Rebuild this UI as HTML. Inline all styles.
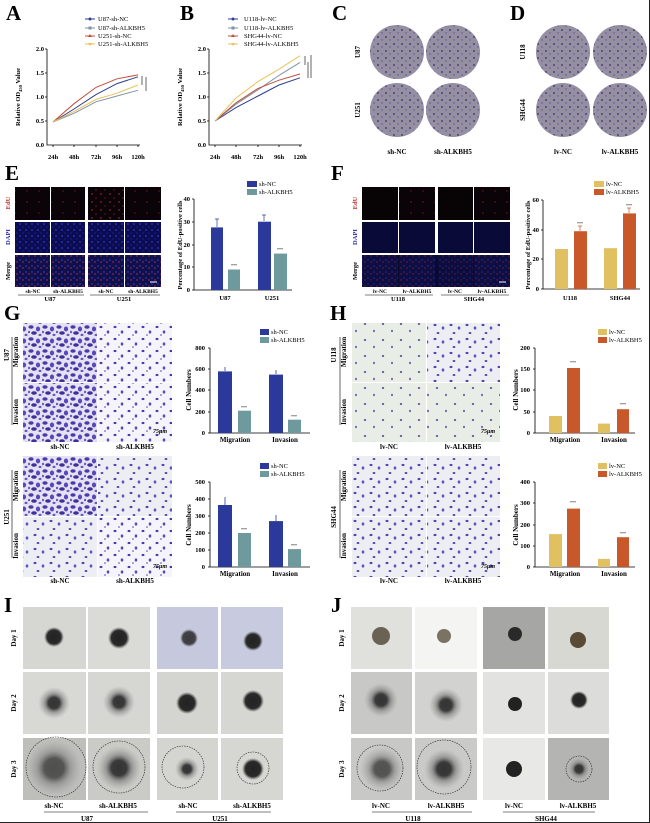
<!DOCTYPE html>
<html><head><meta charset="utf-8"><style>
html,body{margin:0;padding:0;background:#fff;}
svg{display:block;font-family:"Liberation Serif",serif;}
.L{font-size:21px;font-weight:bold;}
.t{font-size:7px;font-weight:bold;}
.s{font-size:6.5px;}
</style></head><body>
<svg width="650" height="823" viewBox="0 0 650 823" xmlns="http://www.w3.org/2000/svg">
<defs>
<pattern id="pd" width="14" height="12" patternUnits="userSpaceOnUse">
<rect width="14" height="12" fill="#e4e2f2"/>
<ellipse cx="3" cy="3" rx="2.6" ry="1.8" fill="#4a3aa8"/><ellipse cx="10" cy="5" rx="2.1" ry="2.5" fill="#5a48b8"/><ellipse cx="6" cy="9" rx="2.8" ry="1.8" fill="#3e2f9a"/><ellipse cx="12" cy="11" rx="1.5" ry="1.2" fill="#6a5ac0"/><ellipse cx="1" cy="8" rx="1.2" ry="1.2" fill="#6a5ac0"/>
</pattern>
<pattern id="ps" width="14" height="12" patternUnits="userSpaceOnUse">
<rect width="14" height="12" fill="#f4f4fa"/>
<ellipse cx="3" cy="3" rx="1.5" ry="1.1" fill="#4a3aa8"/><ellipse cx="10" cy="8" rx="1.3" ry="1.6" fill="#5a48b8"/><ellipse cx="7" cy="11" rx="0.9" ry="0.8" fill="#6a5ac0"/>
</pattern>
<pattern id="pg" width="18" height="16" patternUnits="userSpaceOnUse">
<rect width="18" height="16" fill="#e8eee6"/>
<ellipse cx="5" cy="4" rx="1.2" ry="1" fill="#5a50a8"/><ellipse cx="14" cy="11" rx="1" ry="1.2" fill="#6a60b0"/>
</pattern>
<pattern id="pm" width="16" height="14" patternUnits="userSpaceOnUse">
<rect width="16" height="14" fill="#eceef4"/>
<ellipse cx="3" cy="3" rx="1.5" ry="1.1" fill="#5040b0"/><ellipse cx="11" cy="6" rx="1.3" ry="1.6" fill="#6050c0"/><ellipse cx="6" cy="11" rx="1.4" ry="1" fill="#5545b5"/>
</pattern>
<pattern id="pe" width="9" height="8" patternUnits="userSpaceOnUse">
<rect width="9" height="8" fill="#0a0408"/><circle cx="2" cy="2" r="0.7" fill="#d03030"/><circle cx="6" cy="6" r="0.6" fill="#a02828"/>
</pattern>
<pattern id="pe2" width="12" height="11" patternUnits="userSpaceOnUse">
<rect width="12" height="11" fill="#0a0408"/><circle cx="3" cy="4" r="0.6" fill="#a02828"/>
</pattern>
<pattern id="pb" width="6" height="6" patternUnits="userSpaceOnUse">
<rect width="6" height="6" fill="#0c0c50"/><circle cx="2" cy="2" r="1" fill="#2a2ab8"/><circle cx="5" cy="5" r="0.8" fill="#1e1e90"/>
</pattern>
<pattern id="pmg" width="6" height="6" patternUnits="userSpaceOnUse">
<rect width="6" height="6" fill="#10104a"/><circle cx="2" cy="2" r="1" fill="#2a2ab0"/><circle cx="5" cy="4" r="0.7" fill="#c03050"/>
</pattern>
<pattern id="pc" width="8" height="7" patternUnits="userSpaceOnUse">
<rect width="8" height="7" fill="#958fa2"/><circle cx="2" cy="2" r="0.9" fill="#3a2a70"/><circle cx="6" cy="5" r="0.7" fill="#6050a0"/>
</pattern>
<radialGradient id="sph"><stop offset="0" stop-color="#222"/><stop offset="0.7" stop-color="#2a2a2a"/><stop offset="1" stop-color="#555" stop-opacity="0"/></radialGradient>
<radialGradient id="sphh"><stop offset="0" stop-color="#333"/><stop offset="0.35" stop-color="#3a3a3a"/><stop offset="0.6" stop-color="#777" stop-opacity="0.6"/><stop offset="1" stop-color="#999" stop-opacity="0"/></radialGradient>
</defs>

<!-- A -->
<text x="6" y="20" class="L">A</text>
<g class="s" text-anchor="end" font-weight="bold">
<text x="44" y="51">2.0</text><text x="44" y="75">1.5</text><text x="44" y="99">1.0</text><text x="44" y="123">0.5</text><text x="44" y="147">0.0</text>
<text x="206" y="51">2.0</text><text x="206" y="75">1.5</text><text x="206" y="99">1.0</text><text x="206" y="123">0.5</text><text x="206" y="147">0.0</text>
</g>
<g stroke="#000" stroke-width="0.8" fill="none">
<path d="M47 49V145H140M45 49h2M45 73h2M45 97h2M45 121h2M53 145v2M74 145v2M96 145v2M117 145v2M138 145v2"/>
<path d="M209 49V145H302M207 49h2M207 73h2M207 97h2M207 121h2M215 145v2M236 145v2M258 145v2M279 145v2M300 145v2"/>
</g>
<g class="s" font-weight="bold" text-anchor="middle">
<text x="53" y="159">24h</text><text x="74" y="159">48h</text><text x="96" y="159">72h</text><text x="117" y="159">96h</text><text x="138" y="159">120h</text>
<text x="215" y="159">24h</text><text x="236" y="159">48h</text><text x="258" y="159">72h</text><text x="279" y="159">96h</text><text x="300" y="159">120h</text>
</g>
<text transform="translate(20,97) rotate(-90)" class="s" font-weight="bold" text-anchor="middle">Relative OD<tspan font-size="4.5" dy="2">450</tspan><tspan dy="-2"> Value</tspan></text>
<text transform="translate(182,97) rotate(-90)" class="s" font-weight="bold" text-anchor="middle">Relative OD<tspan font-size="4.5" dy="2">450</tspan><tspan dy="-2"> Value</tspan></text>
<g fill="none" stroke-width="1">
<polyline stroke="#2d3d8f" points="53,122 74,109 96,94.6 117,83.6 138,76.8"/>
<polyline stroke="#7f93a8" points="53,122 74,113.3 96,101.8 117,96 138,90.3"/>
<polyline stroke="#c0503a" points="53,122 74,103.7 96,87.4 117,78.8 138,74.9"/>
<polyline stroke="#e8c25a" points="53,122 74,111.4 96,99.4 117,93.2 138,85"/>
<polyline stroke="#2d3d8f" points="215,121 236,107.6 258,96 279,85 300,77.8"/>
<polyline stroke="#7f93a8" points="215,121 236,104.2 258,89.8 279,75.4 300,62.4"/>
<polyline stroke="#c0503a" points="215,121 236,102.8 258,88.4 279,80.2 300,74"/>
<polyline stroke="#e8c25a" points="215,121 236,98 258,81.6 279,69.2 300,55.7"/>
</g>
<g stroke="#000" stroke-width="0.6" fill="none"><path d="M142 76v9M146 77v14M305 56v9M308 62v16M311 55v23"/></g>
<g class="s">
<line x1="85" y1="19" x2="95" y2="19" stroke="#2d3d8f"/><circle cx="90" cy="19" r="1.5" fill="#2d3d8f"/><text x="98" y="21">U87-sh-NC</text>
<line x1="85" y1="28" x2="95" y2="28" stroke="#7f93a8"/><rect x="88.5" y="26.5" width="3" height="3" fill="#7f93a8"/><text x="98" y="30">U87-sh-ALKBH5</text>
<line x1="85" y1="36" x2="95" y2="36" stroke="#c0503a"/><path d="M90 34l2 3h-4z" fill="#c0503a"/><text x="98" y="38">U251-sh-NC</text>
<line x1="85" y1="44" x2="95" y2="44" stroke="#e8c25a"/><path d="M90 46l2-3h-4z" fill="#e8c25a"/><text x="98" y="46">U251-sh-ALKBH5</text>
<line x1="228" y1="19" x2="238" y2="19" stroke="#2d3d8f"/><circle cx="233" cy="19" r="1.5" fill="#2d3d8f"/><text x="244" y="21">U118-lv-NC</text>
<line x1="228" y1="28" x2="238" y2="28" stroke="#7f93a8"/><rect x="231.5" y="26.5" width="3" height="3" fill="#7f93a8"/><text x="244" y="30">U118-lv-ALKBH5</text>
<line x1="228" y1="36" x2="238" y2="36" stroke="#c0503a"/><path d="M233 34l2 3h-4z" fill="#c0503a"/><text x="244" y="38">SHG44-lv-NC</text>
<line x1="228" y1="44" x2="238" y2="44" stroke="#e8c25a"/><path d="M233 46l2-3h-4z" fill="#e8c25a"/><text x="244" y="46">SHG44-lv-ALKBH5</text>
</g>
<text x="180" y="20" class="L">B</text>

<!-- C D -->
<text x="332" y="20" class="L">C</text><text x="510" y="20" class="L">D</text>
<g fill="url(#pc)">
<circle cx="397" cy="52" r="27"/><circle cx="453" cy="52" r="27"/><circle cx="397" cy="110" r="27"/><circle cx="453" cy="110" r="27"/>
<circle cx="563" cy="52" r="27"/><circle cx="620" cy="52" r="27"/><circle cx="563" cy="110" r="27"/><circle cx="620" cy="110" r="27"/>
</g>
<g class="t" text-anchor="middle">
<text transform="translate(360,52) rotate(-90)">U87</text><text transform="translate(360,110) rotate(-90)">U251</text>
<text transform="translate(525,52) rotate(-90)">U118</text><text transform="translate(525,110) rotate(-90)">SHG44</text>
<text x="397" y="154">sh-NC</text><text x="453" y="154">sh-ALKBH5</text><text x="563" y="154">lv-NC</text><text x="620" y="154">lv-ALKBH5</text>
</g>

<!-- E -->
<text x="5" y="180" class="L">E</text>
<g>
<rect x="15" y="187" width="35" height="33" fill="url(#pe2)"/><rect x="51" y="187" width="34" height="33" fill="url(#pe2)"/>
<rect x="88" y="187" width="36" height="33" fill="url(#pe)"/><rect x="125" y="187" width="36" height="33" fill="url(#pe2)"/>
<rect x="15" y="222" width="35" height="31" fill="url(#pb)"/><rect x="51" y="222" width="34" height="31" fill="url(#pb)"/>
<rect x="88" y="222" width="36" height="31" fill="url(#pb)"/><rect x="125" y="222" width="36" height="31" fill="url(#pb)"/>
<rect x="15" y="255" width="35" height="32" fill="url(#pmg)"/><rect x="51" y="255" width="34" height="32" fill="url(#pmg)"/>
<rect x="88" y="255" width="36" height="32" fill="url(#pmg)"/><rect x="125" y="255" width="36" height="32" fill="url(#pmg)"/>
<line x1="150" y1="282" x2="157" y2="282" stroke="#fff"/>
</g>
<g class="s" text-anchor="middle" font-weight="bold">
<text transform="translate(10,203) rotate(-90)" fill="#c03030">EdU</text>
<text transform="translate(10,237) rotate(-90)" fill="#2a2aa0">DAPI</text>
<text transform="translate(10,271) rotate(-90)">Merge</text>
<text x="33" y="293" font-size="5.5">sh-NC</text><text x="68" y="293" font-size="5.5">sh-ALKBH5</text>
<text x="106" y="293" font-size="5.5">sh-NC</text><text x="143" y="293" font-size="5.5">sh-ALKBH5</text>
<text x="50" y="301">U87</text><text x="124" y="301">U251</text>
</g>
<path d="M18 295h66M90 295h70" stroke="#000" stroke-width="0.6"/>
<g stroke="#000" stroke-width="0.8" fill="none"><path d="M194 199V290H292M192 199h2M192 222h2M192 245h2M192 267h2M192 290h2"/></g>
<g class="s" text-anchor="end" font-weight="bold"><text x="190" y="201">40</text><text x="190" y="224">30</text><text x="190" y="247">20</text><text x="190" y="269">10</text><text x="190" y="292">0</text></g>
<text transform="translate(182,245) rotate(-90)" class="s" font-weight="bold" text-anchor="middle">Percentage of EdU-positive cells</text>
<rect x="211" y="227.4" width="12" height="62.6" fill="#2b3a9a"/><rect x="228" y="269.5" width="12" height="20.5" fill="#6e9a9e"/>
<rect x="258" y="221.7" width="13" height="68.3" fill="#2b3a9a"/><rect x="274" y="253.6" width="13" height="36.4" fill="#6e9a9e"/>
<path d="M217 227v-8M215 219h4M264 221v-6M262 215h4" stroke="#2b3a9a" stroke-width="0.7"/>
<g font-size="4" text-anchor="middle"><text x="234" y="267">***</text><text x="280" y="251">***</text></g>
<g class="s"><rect x="247" y="181" width="10" height="6" fill="#2b3a9a"/><text x="259" y="186">sh-NC</text><rect x="247" y="189" width="10" height="6" fill="#6e9a9e"/><text x="259" y="194">sh-ALKBH5</text></g>
<g class="s" font-weight="bold" text-anchor="middle"><text x="225" y="300">U87</text><text x="272" y="300">U251</text></g>

<!-- F -->
<text x="331" y="180" class="L">F</text>
<g>
<rect x="362" y="187" width="36" height="33" fill="#080406"/><rect x="399" y="187" width="36" height="33" fill="url(#pe2)"/>
<rect x="438" y="187" width="35" height="33" fill="#080406"/><rect x="474" y="187" width="36" height="33" fill="url(#pe2)"/>
<rect x="362" y="222" width="36" height="31" fill="#0a0a38"/><rect x="399" y="222" width="36" height="31" fill="#0a0a38"/>
<rect x="438" y="222" width="35" height="31" fill="#0a0a38"/><rect x="474" y="222" width="36" height="31" fill="#0a0a38"/>
<rect x="362" y="255" width="148" height="32" fill="#0a0a30"/>
<rect x="362" y="255" width="36" height="32" fill="url(#pmg)" opacity="0.6"/><rect x="399" y="255" width="36" height="32" fill="url(#pmg)" opacity="0.6"/>
<rect x="438" y="255" width="35" height="32" fill="url(#pmg)" opacity="0.5"/><rect x="474" y="255" width="36" height="32" fill="url(#pmg)" opacity="0.6"/>
<line x1="499" y1="282" x2="506" y2="282" stroke="#fff"/>
</g>
<g class="s" text-anchor="middle" font-weight="bold">
<text transform="translate(357,203) rotate(-90)" fill="#c03030">EdU</text>
<text transform="translate(357,237) rotate(-90)" fill="#2a2aa0">DAPI</text>
<text transform="translate(357,271) rotate(-90)">Merge</text>
<text x="380" y="293" font-size="5.5">lv-NC</text><text x="417" y="293" font-size="5.5">lv-ALKBH5</text>
<text x="455" y="293" font-size="5.5">lv-NC</text><text x="492" y="293" font-size="5.5">lv-ALKBH5</text>
<text x="398" y="301">U118</text><text x="474" y="301">SHG44</text>
</g>
<path d="M365 295h68M441 295h68" stroke="#000" stroke-width="0.6"/>
<g stroke="#000" stroke-width="0.8" fill="none"><path d="M543 200V289H640M541 200h2M541 230h2M541 259h2M541 289h2"/></g>
<g class="s" text-anchor="end" font-weight="bold"><text x="539" y="202">60</text><text x="539" y="232">40</text><text x="539" y="261">20</text><text x="539" y="291">0</text></g>
<text transform="translate(530,245) rotate(-90)" class="s" font-weight="bold" text-anchor="middle">Percentage of EdU-positive cells</text>
<rect x="555" y="249" width="13" height="40" fill="#e0c060"/><rect x="574" y="231.2" width="13" height="57.8" fill="#c8582a"/>
<rect x="604" y="248.2" width="13" height="40.8" fill="#e0c060"/><rect x="623" y="213.4" width="13" height="75.6" fill="#c8582a"/>
<path d="M580 231v-5M578 226h4M629 213v-5M627 208h4" stroke="#c8582a" stroke-width="0.7"/>
<g font-size="4" text-anchor="middle"><text x="580" y="225">***</text><text x="629" y="207">***</text></g>
<g class="s"><rect x="594" y="181" width="10" height="6" fill="#e0c060"/><text x="606" y="186">lv-NC</text><rect x="594" y="189" width="10" height="6" fill="#c8582a"/><text x="606" y="194">lv-ALKBH5</text></g>
<g class="s" font-weight="bold" text-anchor="middle"><text x="570" y="300">U118</text><text x="620" y="300">SHG44</text></g>

<!-- G -->
<text x="4" y="320" class="L">G</text>
<rect x="23" y="323" width="74" height="59" fill="url(#pd)"/><rect x="98" y="323" width="74" height="59" fill="url(#ps)"/>
<rect x="23" y="383" width="74" height="59" fill="url(#pd)"/><rect x="98" y="383" width="74" height="59" fill="url(#ps)"/>
<rect x="23" y="456" width="74" height="60" fill="url(#pd)"/><rect x="98" y="456" width="74" height="60" fill="url(#pm)"/>
<rect x="23" y="517" width="74" height="60" fill="url(#pm)"/><rect x="98" y="517" width="74" height="60" fill="url(#ps)"/>
<g class="t" text-anchor="middle">
<text transform="translate(9,355) rotate(-90)">U87</text><text transform="translate(18,352) rotate(-90)">Migration</text><text transform="translate(18,412) rotate(-90)">Invasion</text>
<text transform="translate(9,517) rotate(-90)">U251</text><text transform="translate(18,486) rotate(-90)">Migration</text><text transform="translate(18,546) rotate(-90)">Invasion</text>
<text x="60" y="449">sh-NC</text><text x="135" y="449">sh-ALKBH5</text>
<text x="60" y="583">sh-NC</text><text x="135" y="583">sh-ALKBH5</text>
</g>
<path d="M12 337v88M12 470v88" stroke="#000" stroke-width="0.6"/>
<g font-size="6" font-weight="bold" font-style="italic"><text x="153" y="433">75μm</text><text x="153" y="568">75μm</text></g>
<g stroke="#000" stroke-width="0.8" fill="none"><path d="M210 348V433H310M208 348h2M208 369h2M208 390h2M208 412h2M208 433h2"/><path d="M210 482V567H310M208 482h2M208 499h2M208 516h2M208 533h2M208 550h2M208 567h2"/></g>
<g class="s" text-anchor="end" font-weight="bold"><text x="205" y="350">800</text><text x="205" y="371">600</text><text x="205" y="392">400</text><text x="205" y="414">200</text><text x="205" y="435">0</text>
<text x="205" y="484">500</text><text x="205" y="501">400</text><text x="205" y="518">300</text><text x="205" y="535">200</text><text x="205" y="552">100</text><text x="205" y="569">0</text></g>
<g class="t" text-anchor="middle"><text transform="translate(191,390) rotate(-90)">Cell Numbers</text><text transform="translate(191,525) rotate(-90)">Cell Numbers</text>
<text x="235" y="442">Migration</text><text x="285" y="442">Invasion</text><text x="235" y="576">Migration</text><text x="285" y="576">Invasion</text></g>
<rect x="218" y="371.4" width="14" height="61.6" fill="#2b3a9a"/><rect x="238" y="410.7" width="13" height="22.3" fill="#6e9a9e"/>
<rect x="269" y="374.6" width="14" height="58.4" fill="#2b3a9a"/><rect x="288" y="419.7" width="13" height="13.3" fill="#6e9a9e"/>
<rect x="218" y="505" width="14" height="62" fill="#2b3a9a"/><rect x="238" y="533" width="13" height="34" fill="#6e9a9e"/>
<rect x="269" y="521.1" width="14" height="45.9" fill="#2b3a9a"/><rect x="288" y="549.1" width="13" height="17.9" fill="#6e9a9e"/>
<path d="M225 371v-4M276 374v-4M225 505v-8M276 521v-6" stroke="#2b3a9a" stroke-width="0.8"/>
<g font-size="4" text-anchor="middle"><text x="244" y="409">***</text><text x="294" y="418">***</text><text x="244" y="531">***</text><text x="294" y="547">***</text></g>
<g class="s"><rect x="260" y="329" width="9" height="6" fill="#2b3a9a"/><text x="271" y="334">sh-NC</text><rect x="260" y="337" width="9" height="6" fill="#6e9a9e"/><text x="271" y="342">sh-ALKBH5</text>
<rect x="260" y="463" width="9" height="6" fill="#2b3a9a"/><text x="271" y="468">sh-NC</text><rect x="260" y="471" width="9" height="6" fill="#6e9a9e"/><text x="271" y="476">sh-ALKBH5</text></g>

<!-- H -->
<text x="330" y="320" class="L">H</text>
<rect x="352" y="323" width="74" height="59" fill="url(#pg)"/><rect x="427" y="323" width="73" height="59" fill="url(#pm)"/>
<rect x="352" y="383" width="74" height="59" fill="url(#pg)"/><rect x="427" y="383" width="73" height="59" fill="url(#pg)"/>
<rect x="352" y="456" width="74" height="60" fill="url(#pm)"/><rect x="427" y="456" width="73" height="60" fill="url(#pm)"/>
<rect x="352" y="517" width="74" height="60" fill="url(#pm)"/><rect x="427" y="517" width="73" height="60" fill="url(#pm)"/>
<g class="t" text-anchor="middle">
<text transform="translate(336,355) rotate(-90)">U118</text><text transform="translate(346,352) rotate(-90)">Migration</text><text transform="translate(346,412) rotate(-90)">Invasion</text>
<text transform="translate(336,517) rotate(-90)">SHG44</text><text transform="translate(346,486) rotate(-90)">Migration</text><text transform="translate(346,546) rotate(-90)">Invasion</text>
<text x="389" y="449">lv-NC</text><text x="463" y="449">lv-ALKBH5</text>
<text x="389" y="583">lv-NC</text><text x="463" y="583">lv-ALKBH5</text>
</g>
<path d="M340 337v88M340 470v88" stroke="#000" stroke-width="0.6"/>
<g font-size="6" font-weight="bold" font-style="italic"><text x="481" y="433">75μm</text><text x="481" y="568">75μm</text></g>
<g stroke="#000" stroke-width="0.8" fill="none"><path d="M535 348V433H635M533 348h2M533 369h2M533 390h2M533 412h2M533 433h2"/><path d="M535 482V567H635M533 482h2M533 503h2M533 525h2M533 546h2M533 567h2"/></g>
<g class="s" text-anchor="end" font-weight="bold"><text x="530" y="350">200</text><text x="530" y="371">150</text><text x="530" y="392">100</text><text x="530" y="414">50</text><text x="530" y="435">0</text>
<text x="530" y="484">400</text><text x="530" y="505">300</text><text x="530" y="527">200</text><text x="530" y="548">100</text><text x="530" y="569">0</text></g>
<g class="t" text-anchor="middle"><text transform="translate(518,390) rotate(-90)">Cell Numbers</text><text transform="translate(518,525) rotate(-90)">Cell Numbers</text>
<text x="565" y="442">Migration</text><text x="614" y="442">Invasion</text><text x="565" y="576">Migration</text><text x="614" y="576">Invasion</text></g>
<rect x="549" y="416" width="13" height="17" fill="#e0c060"/><rect x="567" y="368" width="13" height="65" fill="#c8582a"/>
<rect x="598" y="423.6" width="12" height="9.4" fill="#e0c060"/><rect x="617" y="409.2" width="12" height="23.8" fill="#c8582a"/>
<rect x="549" y="534.1" width="13" height="32.9" fill="#e0c060"/><rect x="567" y="508.6" width="13" height="58.4" fill="#c8582a"/>
<rect x="598" y="558.9" width="12" height="8.1" fill="#e0c060"/><rect x="617" y="537.2" width="12" height="29.8" fill="#c8582a"/>
<g font-size="4" text-anchor="middle"><text x="573" y="364">***</text><text x="623" y="406">***</text><text x="573" y="504">***</text><text x="623" y="535">***</text></g>
<g class="s"><rect x="598" y="329" width="9" height="6" fill="#e0c060"/><text x="609" y="334">lv-NC</text><rect x="598" y="337" width="9" height="6" fill="#c8582a"/><text x="609" y="342">lv-ALKBH5</text>
<rect x="598" y="463" width="9" height="6" fill="#e0c060"/><text x="609" y="468">lv-NC</text><rect x="598" y="471" width="9" height="6" fill="#c8582a"/><text x="609" y="476">lv-ALKBH5</text></g>

<!-- I -->
<text x="4" y="612" class="L">I</text>
<g>
<rect x="23" y="607" width="63" height="62" fill="#d6d6d2"/><rect x="88" y="607" width="62" height="62" fill="#dadad6"/>
<rect x="157" y="607" width="61" height="62" fill="#c6c9de"/><rect x="221" y="607" width="62" height="62" fill="#c8cbe0"/>
<rect x="23" y="672" width="63" height="62" fill="#d8d8d4"/><rect x="88" y="672" width="62" height="62" fill="#d6d6d2"/>
<rect x="157" y="672" width="61" height="62" fill="#d4d4d0"/><rect x="221" y="672" width="62" height="62" fill="#d6d6d2"/>
<rect x="23" y="738" width="63" height="62" fill="#bebebb"/><rect x="88" y="738" width="62" height="62" fill="#cacac6"/>
<rect x="157" y="738" width="61" height="62" fill="#d4d4d0"/><rect x="221" y="738" width="62" height="62" fill="#d6d6d2"/>
<circle cx="54" cy="637" r="10" fill="url(#sph)"/><circle cx="119" cy="638" r="11" fill="url(#sph)"/>
<circle cx="189" cy="638" r="9" fill="url(#sph)" opacity="0.85"/><circle cx="253" cy="641" r="10" fill="url(#sph)"/>
<circle cx="54" cy="703" r="16" fill="url(#sphh)"/><circle cx="119" cy="702" r="16" fill="url(#sphh)"/>
<circle cx="187" cy="703" r="11" fill="url(#sph)"/><circle cx="253" cy="701" r="11" fill="url(#sph)"/>
<circle cx="54" cy="768" r="28" fill="url(#sphh)" opacity="0.8"/><circle cx="119" cy="768" r="22" fill="url(#sphh)"/>
<circle cx="187" cy="769" r="12" fill="url(#sphh)"/><circle cx="253" cy="769" r="11" fill="url(#sph)"/>
<g fill="none" stroke="#222" stroke-width="0.6" stroke-dasharray="1.5,1"><circle cx="56" cy="767" r="30"/><circle cx="119" cy="767" r="26"/><circle cx="183" cy="767" r="21"/><circle cx="253" cy="768" r="16"/></g>
</g>
<g class="t" text-anchor="middle">
<text transform="translate(16,638) rotate(-90)">Day 1</text><text transform="translate(16,703) rotate(-90)">Day 2</text><text transform="translate(16,769) rotate(-90)">Day 3</text>
<text x="54" y="808">sh-NC</text><text x="118" y="808">sh-ALKBH5</text><text x="188" y="808">sh-NC</text><text x="252" y="808">sh-ALKBH5</text>
<text x="87" y="821">U87</text><text x="220" y="821">U251</text>
</g>
<path d="M44 812h104M176 812h95" stroke="#000" stroke-width="0.6"/>

<!-- J -->
<text x="331" y="612" class="L">J</text>
<g>
<rect x="351" y="607" width="61" height="62" fill="#e0e0dc"/><rect x="415" y="607" width="62" height="62" fill="#f4f4f2"/>
<rect x="483" y="607" width="62" height="62" fill="#a6a6a4"/><rect x="548" y="607" width="61" height="62" fill="#d8d8d2"/>
<rect x="351" y="672" width="61" height="62" fill="#c8c8c6"/><rect x="415" y="672" width="62" height="62" fill="#d2d2d0"/>
<rect x="483" y="672" width="62" height="62" fill="#e2e2e0"/><rect x="548" y="672" width="61" height="62" fill="#dcdcda"/>
<rect x="351" y="738" width="61" height="62" fill="#c8c8c6"/><rect x="415" y="738" width="62" height="62" fill="#cacac8"/>
<rect x="483" y="738" width="62" height="62" fill="#e8e8e6"/><rect x="548" y="738" width="61" height="62" fill="#b4b4b2"/>
<circle cx="381" cy="636" r="9" fill="#6a6252"/><circle cx="444" cy="636" r="7" fill="#7a7262"/>
<circle cx="515" cy="634" r="7" fill="#2a2a2a"/><circle cx="578" cy="640" r="8" fill="#5a4a36"/>
<circle cx="381" cy="700" r="17" fill="url(#sphh)"/><circle cx="446" cy="705" r="17" fill="url(#sphh)"/>
<circle cx="515" cy="704" r="7" fill="#222"/><circle cx="579" cy="700" r="9" fill="url(#sph)"/>
<circle cx="382" cy="769" r="22" fill="url(#sphh)" opacity="0.8"/><circle cx="444" cy="769" r="20" fill="url(#sphh)"/>
<circle cx="514" cy="769" r="8" fill="#222"/><circle cx="579" cy="769" r="11" fill="url(#sphh)"/>
<g fill="none" stroke="#222" stroke-width="0.6" stroke-dasharray="1.5,1"><circle cx="380" cy="768" r="23"/><circle cx="444" cy="767" r="27"/><circle cx="579" cy="769" r="13"/></g>
</g>
<g class="t" text-anchor="middle">
<text transform="translate(344,638) rotate(-90)">Day 1</text><text transform="translate(344,703) rotate(-90)">Day 2</text><text transform="translate(344,769) rotate(-90)">Day 3</text>
<text x="381" y="808">lv-NC</text><text x="446" y="808">lv-ALKBH5</text><text x="514" y="808">lv-NC</text><text x="578" y="808">lv-ALKBH5</text>
<text x="413" y="821">U118</text><text x="546" y="821">SHG44</text>
</g>
<path d="M372 812h100M503 812h92" stroke="#000" stroke-width="0.6"/>
<line x1="0" y1="822.5" x2="650" y2="822.5" stroke="#222"/>
<line x1="649.5" y1="0" x2="649.5" y2="823" stroke="#222"/>
</svg>
</body></html>
